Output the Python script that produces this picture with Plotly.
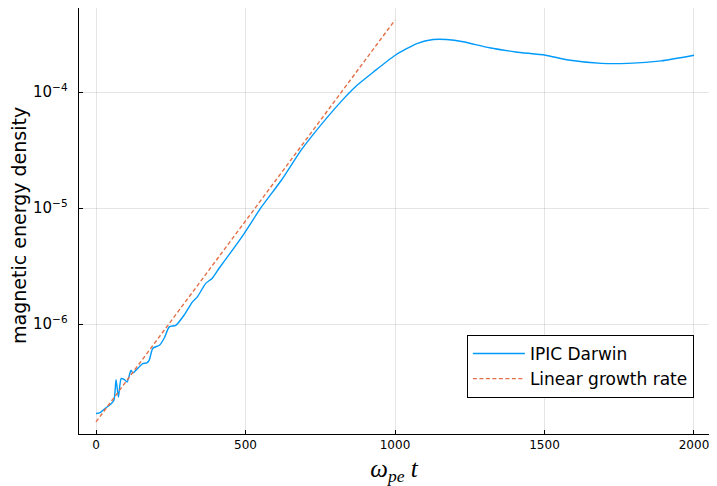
import plotly.graph_objects as go

# IPIC Darwin simulation
t_sim = [0, 12, 29, 45, 60, 67, 75, 84, 95, 104, 117, 123, 139, 156, 170, 178, 190, 212, 228, 245,
         267, 295, 322, 339, 367, 388, 411, 444, 488, 554, 620, 686, 720, 824, 874, 929, 1001, 1073,
         1128, 1172, 1228, 1316, 1404, 1503, 1580, 1691, 1779, 1890, 2000]
e_sim = [1.70e-7, 1.72e-7, 1.87e-7, 2.00e-7, 2.21e-7, 3.33e-7, 2.36e-7, 3.40e-7, 3.33e-7, 3.18e-7,
         4.01e-7, 3.80e-7, 4.15e-7, 4.58e-7, 4.64e-7, 4.90e-7, 6.21e-7, 6.59e-7, 7.57e-7, 9.48e-7,
         9.79e-7, 1.20e-6, 1.55e-6, 1.72e-6, 2.25e-6, 2.48e-6, 3.02e-6, 3.94e-6, 5.66e-6, 1.03e-5,
         1.74e-5, 3.16e-5, 4.12e-5, 8.53e-5, 1.15e-4, 1.50e-4, 2.08e-4, 2.62e-4, 2.84e-4, 2.84e-4,
         2.72e-4, 2.41e-4, 2.22e-4, 2.08e-4, 1.89e-4, 1.77e-4, 1.77e-4, 1.86e-4, 2.08e-4]

# Linear growth rate (straight line on log scale, endpoints)
t_lin = [0, 1000]
e_lin = [1.44e-7, 4.18e-4]

x_ticks = [0, 500, 1000, 1500, 2000]

fig = go.Figure()
fig.add_trace(go.Scatter(x=t_sim, y=e_sim, mode="lines", name="IPIC Darwin",
                         line=dict(color="#009AFA", width=1.4, shape="spline", smoothing=0.6)))
fig.add_trace(go.Scatter(x=t_lin, y=e_lin, mode="lines", name="Linear growth rate",
                         line=dict(color="#E36F47", width=1.4, dash="4px,2.5px")))

axis_common = dict(showline=True, linecolor="black", linewidth=1, mirror=True,
                   showgrid=True, gridcolor="rgba(0,0,0,0.1)", gridwidth=1,
                   ticks="inside", ticklen=4, tickcolor="black", zeroline=False,
                   tickfont=dict(family="DejaVu Sans", size=12, color="black"))

fig.update_layout(
    width=701, height=478,
    margin=dict(l=71, r=0, t=0, b=52),
    plot_bgcolor="white", paper_bgcolor="white",
    font=dict(family="DejaVu Sans", color="black"),
    showlegend=True,
    legend=dict(x=0.976, y=0.0845, xanchor="right", yanchor="bottom",
                bgcolor="white", bordercolor="black", borderwidth=1,
                font=dict(family="DejaVu Sans", size=17, color="black"),
                itemwidth=52, tracegroupgap=0),
    xaxis=dict(range=[-56.9, 2050.2], tickvals=x_ticks, ticktext=[str(v) for v in x_ticks],
               ticklabeloverflow="allow",
               title=dict(text="<i>ω</i><sub><i>pe</i></sub> <i>t</i>",
                          font=dict(family="Liberation Serif", size=25, color="black"),
                          standoff=10),
               **axis_common),
    yaxis=dict(type="log", range=[-6.946, -3.275], dtick=1, exponentformat="power",
               ticklabelstandoff=8, ticklabeloverflow="allow",
               **axis_common),
    annotations=[dict(text="magnetic energy density", textangle=-90,
                      xref="paper", yref="paper", x=-0.0952, y=0.4885,
                      xanchor="center", yanchor="middle", showarrow=False,
                      font=dict(family="DejaVu Sans", size=19, color="black"))],
)

fig.write_html("out.html")
